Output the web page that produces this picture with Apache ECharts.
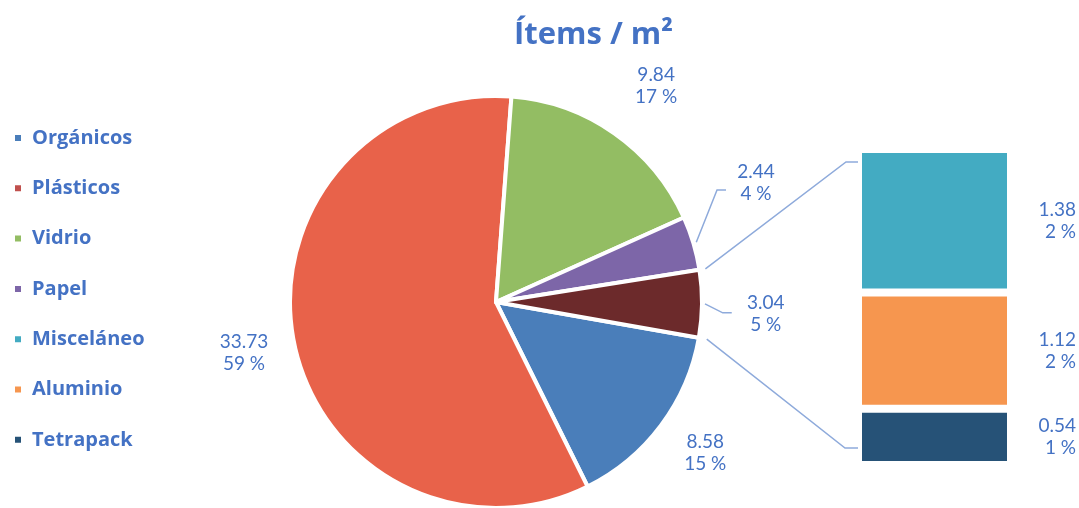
<!DOCTYPE html>
<html>
<head>
<meta charset="utf-8">
<script src="https://cdn.jsdelivr.net/npm/echarts@6/dist/echarts.min.js"></script>
<style>
html,body{margin:0;padding:0;background:#fff;}
#main{width:1079px;height:508px;}
</style>
</head>
<body>
<div id="main"></div>
<script>
// ---- data ----
const pieCategories = ['Orgánicos', 'Plásticos', 'Vidrio', 'Papel', 'Otros'];
const pieValues = [8.58, 33.73, 9.84, 2.44, 3.04];
const barCategories = ['Misceláneo', 'Aluminio', 'Tetrapack'];
const barValues = [1.38, 1.12, 0.54];
const legendItems = ['Orgánicos', 'Plásticos', 'Vidrio', 'Papel', 'Misceláneo', 'Aluminio', 'Tetrapack'];
const titleText = 'Ítems / m²';

// ---- style ----
const pieColors = ['#4a7eba', '#e8624a', '#93bd63', '#7d66a8', '#6c2a2b'];
const barColors = ['#43abc2', '#f6964f', '#265277'];
const legendSwatch = {'Orgánicos':'#4a7eba','Plásticos':'#c0504d','Vidrio':'#93bd63','Papel':'#7d66a8','Misceláneo':'#43abc2','Aluminio':'#f6964f','Tetrapack':'#265277'};
const textBlue = '#4472c4';
const lineBlue = '#8eaadb';
const FONT = 'Lato, "Open Sans", sans-serif';
const BFONT = '"Open Sans", Lato, sans-serif';
const CX = 496, CY = 302, R = 206;
const START = 100; // clockwise from 12 o'clock
// label placement (distance from centre, angle tweak) per pie slice
const labelDist = [258, 257, 269, 286, 270];
const labelShift = [-1.0, -0.3, 1.5, -8.0, 2.0];
const withLeader = [false, false, false, true, true];

const total = pieValues.reduce((a, b) => a + b, 0);
const pct = v => Math.round(v / total * 100) + ' %';

// mid angles
const mids = [];
{
  let acc = START;
  pieValues.forEach(v => {
    const sweep = v / total * 360;
    mids.push(acc + sweep / 2);
    acc += sweep;
  });
}
const polar = (a, d) => [CX + d * Math.sin(a * Math.PI / 180), CY - d * Math.cos(a * Math.PI / 180)];

const chart = echarts.init(document.getElementById('main'));

const BAR_W = 153;
const barSeries = [];
// stacked bottom -> top: Tetrapack, Aluminio, Misceláneo
for (let i = barCategories.length - 1; i >= 0; i--) {
  barSeries.push({
    type: 'bar',
    name: barCategories[i],
    stack: 'otros',
    xAxisIndex: 0,
    yAxisIndex: 0,
    barWidth: '100%',
    data: [barValues[i]],
    itemStyle: { color: barColors[i], borderColor: '#fff', borderWidth: 4 },
    label: {
      show: true,
      position: [218, '50%'],
      align: 'right',
      verticalAlign: 'middle',
      color: textBlue,
      fontFamily: FONT,
      fontSize: 19,
      lineHeight: 22,
      formatter: p => p.value.toFixed(2) + '\n' + pct(p.value)
    },
    emphasis: { disabled: true }
  });
}

const option = {
  animation: false,
  title: {
    text: titleText,
    left: 509,
    top: 15,
    textStyle: { color: textBlue, fontFamily: BFONT, fontWeight: 'bold', fontSize: 31 }
  },
  legend: {
    orient: 'vertical',
    left: 8,
    top: 123,
    itemWidth: 8,
    itemHeight: 8,
    itemGap: 30.3,
    selectedMode: false,
    icon: 'rect',
    textStyle: { color: textBlue, fontFamily: BFONT, fontWeight: 'bold', fontSize: 20, lineHeight: 20, padding: [0, 0, 0, 5] },
    data: legendItems.map(n => ({ name: n, itemStyle: { color: legendSwatch[n] } }))
  },
  grid: { left: 858, top: 149, width: BAR_W, height: 316, containLabel: false },
  xAxis: { type: 'category', data: ['Otros'], show: false },
  yAxis: { type: 'value', min: 0, max: barValues.reduce((a, b) => a + b, 0), show: false },
  series: [
    {
      type: 'pie',
      name: 'Ítems',
      center: [CX, CY],
      radius: R,
      startAngle: 90 - START,
      clockwise: true,
      avoidLabelOverlap: false,
      emphasis: { disabled: true },
      itemStyle: { borderColor: '#fff', borderWidth: 4 },
      label: {
        show: true,
        position: 'outside',
        color: textBlue,
        fontFamily: FONT,
        fontSize: 19,
        lineHeight: 22,
        formatter: p => p.value.toFixed(2) + '\n' + pct(p.value)
      },
      labelLine: { show: true, lineStyle: { color: lineBlue, width: 1.5 } },
      labelLayout: function (p) {
        const i = p.dataIndex;
        const c = polar(mids[i] + labelShift[i], labelDist[i]);
        const res = { x: c[0], y: c[1], align: 'center', verticalAlign: 'middle' };
        if (withLeader[i]) {
          const s = polar(mids[i], R + 3);
          const endX = c[0] - (i === 3 ? 30 : 34);
          const endY = c[1] + (i === 3 ? 7 : -1);
          res.labelLinePoints = [s, [endX - 9, endY], [endX, endY]];
        }
        return res;
      },
      data: pieCategories.map((n, i) => ({
        name: n,
        value: pieValues[i],
        itemStyle: { color: pieColors[i] },
        labelLine: { show: withLeader[i] }
      }))
    }
  ].concat(barSeries)
};
chart.setOption(option);

// connector lines pie -> bar
const barTotal = barValues.reduce((a, b) => a + b, 0);
const tl = chart.convertToPixel({ gridIndex: 0 }, [0, barTotal]);
const bl = chart.convertToPixel({ gridIndex: 0 }, [0, 0]);
const barLeft = tl[0] - BAR_W / 2 + 4;
const barTop = tl[1] + 4;
const barBottom = bl[1] - 4;
let aTop = START;
for (let i = 0; i < pieValues.length - 1; i++) aTop += pieValues[i] / total * 360;
const aBot = START;
const pTop = polar(aTop, R + 6);
const pBot = polar(aBot, R + 8);
chart.setOption({
  graphic: [
    { type: 'polyline', silent: true, shape: { points: [pTop, [barLeft - 16, barTop + 9], [barLeft - 4, barTop + 9]] }, style: { stroke: lineBlue, lineWidth: 1.5, fill: null } },
    { type: 'polyline', silent: true, shape: { points: [pBot, [barLeft - 17, barBottom - 13], [barLeft - 4, barBottom - 13]] }, style: { stroke: lineBlue, lineWidth: 1.5, fill: null } }
  ]
});
</script>
</body>
</html>
